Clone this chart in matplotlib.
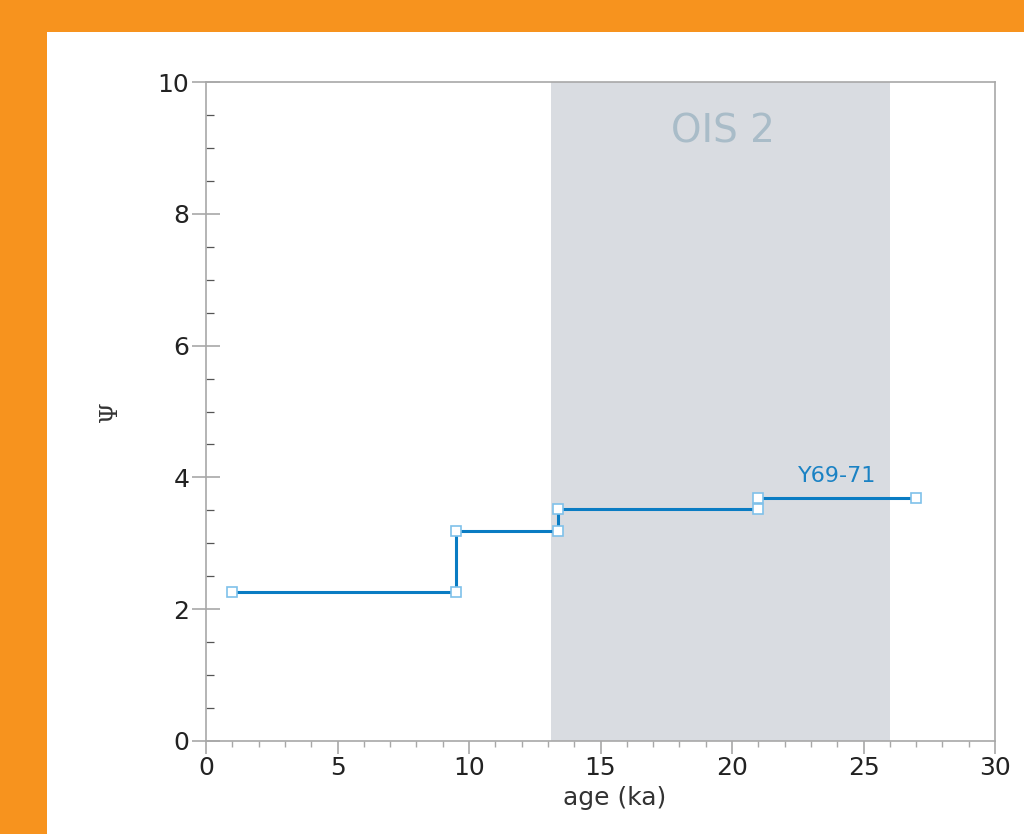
import matplotlib
matplotlib.use("Agg")
import matplotlib.pyplot as plt
from matplotlib.patches import Rectangle
from matplotlib.ticker import MultipleLocator

# step boundaries (ka) and Psi value on each interval
ages = [1.0, 9.5, 13.4, 21.0, 27.0]
psi = [2.26, 3.19, 3.52, 3.69]
ois2 = (13.1, 26.0)
core = "Y69-71"

# build the stair path with a corner point at every break
xs, ys = [], []
for i, v in enumerate(psi):
    xs += [ages[i], ages[i + 1]]
    ys += [v, v]

orange = "#f7931e"
blue = "#0a7cc3"
grey = "#a8a8a8"

fig = plt.figure(figsize=(10.24, 8.34), dpi=100, facecolor=orange)
fig.patches.append(Rectangle((47 / 1024, 0), 1, 1 - 32 / 834, transform=fig.transFigure,
                             facecolor="white", edgecolor="none", zorder=-5))

ax = fig.add_axes([206 / 1024, 1 - 741 / 834, 789 / 1024, 659 / 834])
ax.set_facecolor("none")

ax.axvspan(ois2[0], ois2[1], color="#d9dce1", lw=0, zorder=0)
ax.text(sum(ois2) / 2 + 0.1, 9.25, "OIS 2", color="#a9bcc8", fontsize=28,
        ha="center", va="center")

ax.plot(xs, ys, color=blue, lw=2.2, zorder=2)
ax.plot(xs, ys, ls="none", marker="s", ms=6.5, mfc="white", mec="#7fc1ea",
        mew=1.2, zorder=3)
ax.text(24.0, 4.02, core, color="#1a82c4", fontsize=16, ha="center", va="center")

ax.set_xlim(0, 30)
ax.set_ylim(0, 10)
ax.xaxis.set_major_locator(MultipleLocator(5))
ax.xaxis.set_minor_locator(MultipleLocator(1))
ax.yaxis.set_major_locator(MultipleLocator(2))
ax.yaxis.set_minor_locator(MultipleLocator(0.5))

for s in ax.spines.values():
    s.set_color(grey)
    s.set_linewidth(1.2)

ax.tick_params(axis="x", which="major", direction="out", length=9, width=1.2,
               color=grey, labelsize=18, labelcolor="#222222", pad=2)
ax.tick_params(axis="x", which="minor", direction="out", length=4, width=1.0, color=grey)
ax.tick_params(axis="y", which="major", direction="inout", length=20, width=1.2,
               color=grey, labelsize=18, labelcolor="#222222", pad=2)
ax.tick_params(axis="y", which="minor", direction="in", length=6, width=0.9, color="#555555")

ax.set_xlabel("age (ka)", fontsize=18, color="#333333")
ax.xaxis.set_label_coords(0.518, -0.068)
ax.set_ylabel("Ψ", fontsize=17, color="#333333", family="DejaVu Serif")
ax.yaxis.set_label_coords(-0.106, 0.5)

fig.savefig("out.png", dpi=100, facecolor=orange)
